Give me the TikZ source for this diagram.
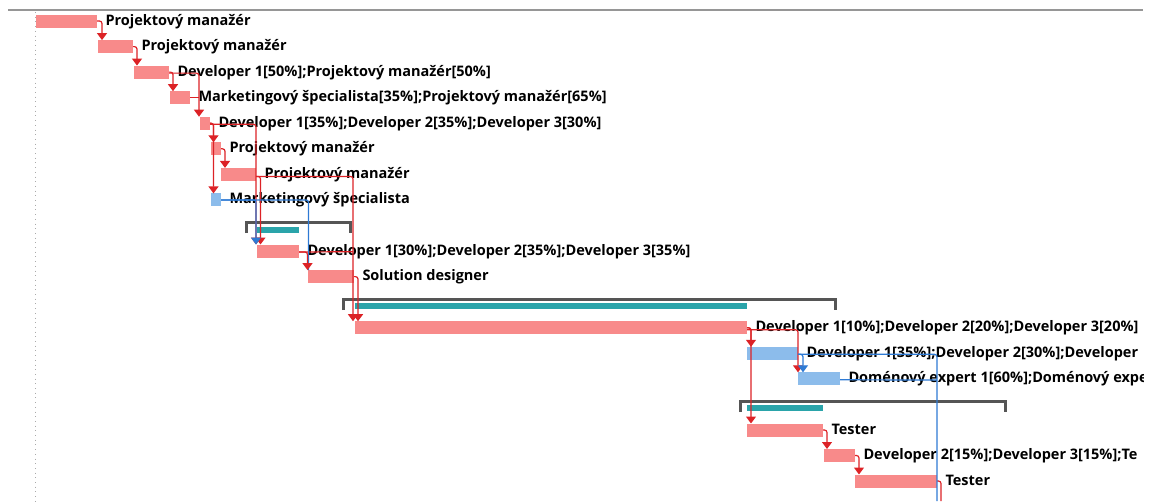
\documentclass[tikz,border=0pt]{standalone}
\usepackage{fontspec}
\setmainfont{Open Sans}
\usetikzlibrary{arrows.meta,calc}
\definecolor{barred}{RGB}{248,138,138}
\definecolor{barblue}{RGB}{140,188,235}
\definecolor{sumteal}{RGB}{42,164,170}
\definecolor{brackgray}{RGB}{85,85,85}
\definecolor{linkred}{RGB}{220,34,38}
\definecolor{linkblue}{RGB}{46,122,212}
\definecolor{rulegray}{RGB}{150,150,150}
\definecolor{dotgray}{RGB}{170,170,170}
\begin{document}
\begin{tikzpicture}[x=1pt,y=-1pt,
  task/.style={rectangle, fill=barred, draw=none, inner sep=0pt, outer sep=0pt, minimum height=13pt, anchor=west},
  btask/.style={task, fill=barblue},
  sumbar/.style={rectangle, fill=sumteal, draw=none, inner sep=0pt, outer sep=0pt, minimum height=6pt, anchor=west},
  bracket/.style={draw=brackgray, line width=3pt, line cap=butt, line join=miter},
  lbl/.style={anchor=base west, inner sep=0pt, outer sep=0pt, font=\bfseries\fontsize{14.5}{16}\selectfont},
  link/.style={draw=linkred, line width=1.2pt, rounded corners=2.5pt, -{Triangle[width=10pt,length=7pt]}},
  plainlink/.style={draw=linkred, line width=1.2pt, rounded corners=2.5pt},
  blink/.style={link, draw=linkblue},
  plainblink/.style={plainlink, draw=linkblue}]
\useasboundingbox (0,0) rectangle (1151,501);

% frame: top rule and dotted start line
\draw[rulegray, line width=1.6pt] (8,10) -- (1143,10);
\draw[dotgray, line width=1pt, dash pattern=on 1pt off 3.7pt] (35,12) -- (35,501);

% task bars
\node[task,  minimum width=61pt] (b1)  at (36,21)    {};
\node[task,  minimum width=35pt] (b2)  at (98,46.6)  {};
\node[task,  minimum width=35pt] (b3)  at (134,72.1) {};
\node[task,  minimum width=20pt] (b4)  at (170,97.7) {};
\node[task,  minimum width=10pt] (b5)  at (200,123.2){};
\node[task,  minimum width=10pt] (b6)  at (211,148.8){};
\node[task,  minimum width=35pt] (b7)  at (221,174.4){};
\node[btask, minimum width=10pt] (b8)  at (211,199.9){};
\node[task,  minimum width=42pt] (b10) at (257,251)  {};
\node[task,  minimum width=46pt] (b11) at (308,276.6){};
\node[task,  minimum width=392pt](b13) at (355,327.7){};
\node[btask, minimum width=51pt] (b14) at (747,353.3){};
\node[btask, minimum width=42pt] (b15) at (798,378.8){};
\node[task,  minimum width=76pt] (b17) at (747,430)  {};
\node[task,  minimum width=31pt] (b18) at (824,455.5){};
\node[task,  minimum width=82pt] (b19) at (855,481)  {};

% summary rows
\draw[bracket] (246,233) -- (246,222) -- (350,222) -- (350,233);
\node[sumbar, minimum width=42pt] (s9) at (257,230) {};
\draw[bracket] (343,310) -- (343,299.5) -- (835,299.5) -- (835,310);
\node[sumbar, minimum width=392pt] (s12) at (355,306) {};
\draw[bracket] (740,412) -- (740,401.5) -- (1005,401.5) -- (1005,412);
\node[sumbar, minimum width=76pt] (s16) at (747,408) {};

% resource labels
\begin{scope}
\clip (0,0) rectangle (1143,501);
\node[lbl] (t1)  at ($(b1.east)+(8.5,4)$)  {Projektový manažér};
\node[lbl] (t2)  at ($(b2.east)+(8.5,4)$)  {Projektový manažér};
\node[lbl] (t3)  at ($(b3.east)+(8.5,4)$)  {Developer 1[50\%];Projektový manažér[50\%]};
\node[lbl] (t4)  at ($(b4.east)+(8.5,4)$)  {Marketingový špecialista[35\%];Projektový manažér[65\%]};
\node[lbl] (t5)  at ($(b5.east)+(8.5,4)$)  {Developer 1[35\%];Developer 2[35\%];Developer 3[30\%]};
\node[lbl] (t6)  at ($(b6.east)+(8.5,4)$)  {Projektový manažér};
\node[lbl] (t7)  at ($(b7.east)+(8.5,4)$)  {Projektový manažér};
\node[lbl] (t8)  at ($(b8.east)+(8.5,4)$)  {Marketingový špecialista};
\node[lbl] (t10) at ($(b10.east)+(8.5,4)$) {Developer 1[30\%];Developer 2[35\%];Developer 3[35\%]};
\node[lbl] (t11) at ($(b11.east)+(8.5,4)$) {Solution designer};
\node[lbl] (t13) at ($(b13.east)+(8.5,4)$) {Developer 1[10\%];Developer 2[20\%];Developer 3[20\%]};
\node[lbl] (t14) at ($(b14.east)+(8.5,4)$) {Developer 1[35\%];Developer 2[30\%];Developer};
\node[lbl] (t15) at ($(b15.east)+(8.5,4)$) {Doménový expert 1[60\%];Doménový expe};
\node[lbl] (t17) at ($(b17.east)+(8.5,4)$) {Tester};
\node[lbl] (t18) at ($(b18.east)+(8.5,4)$) {Developer 2[15\%];Developer 3[15\%];Te};
\node[lbl] (t19) at ($(b19.east)+(8.5,4)$) {Tester};
\end{scope}

% free ends below the visible rows
\coordinate (out1) at (937,501);
\coordinate (out2) at (941,501);

% dependency links (red)
\draw[link] (b1.east) -| ($(b2.north west)+(4,0)$);
\draw[link] (b2.east) -| ($(b3.north west)+(3,0)$);
\draw[link] (b3.east) -| ($(b4.north west)+(3,0)$);
\draw[link] ($(b3.east)+(0,1)$) -| ($(b5.north west)+(-1,0)$);
\draw[plainlink] (b4.east) -- ($(b5.west)+(-1,-25.5)$);
\draw[link] (b5.east) -| ($(b6.north west)+(2.5,0)$);
\draw[link] (b5.east) -| ($(b8.north west)+(2.5,0)$);
\draw[link] (b6.east) -| ($(b7.north west)+(4,0)$);
\draw[link] ($(b5.east)+(0,1)$) -| ($(b10.north west)+(-1,0)$);
\draw[link] ($(b7.east)+(0,2)$) -| ($(b10.north west)+(3.5,0)$);
\draw[link] ($(b7.east)+(0,2)$) -| ($(b13.north west)+(-2,0)$);
\draw[plainlink] ($(b10.east)+(0,1)$) -- ($(b13.north west)+(-2,-69.5)$);
\draw[plainblink] (b8.east) -| ($(b11.north west)+(0.5,0)$);
\draw[link] ($(b10.east)+(0,1)$) -| ($(b11.north west)+(-0.5,0)$);
\draw[link] (b11.east) -| ($(b13.north west)+(3,0)$);
\draw[link] ($(b13.east)+(0,2)$) -| ($(b15.north west)+(0,0)$);
\draw[link] (b13.east) -| ($(b14.north west)+(4,0)$);
\draw[link] (b13.east) -| ($(b17.north west)+(4,0)$);
\draw[link] (b17.east) -| ($(b18.north west)+(3,0)$);
\draw[link] (b18.east) -| ($(b19.north west)+(4,0)$);
\draw[plainlink] (b19.east) -| (out2);

% dependency links (blue)
\draw[blink] (b8.east) -| ($(b10.north west)+(-1,0)$);
\draw[blink] ($(b14.east)+(0,1)$) -| ($(b15.north west)+(5,0)$);
\draw[plainblink] ($(b14.east)+(0,1)$) -| (out1);
\draw[plainblink] ($(b15.east)+(0,1)$) -- ($(out1)+(0,-121)$);
\end{tikzpicture}
\end{document}
